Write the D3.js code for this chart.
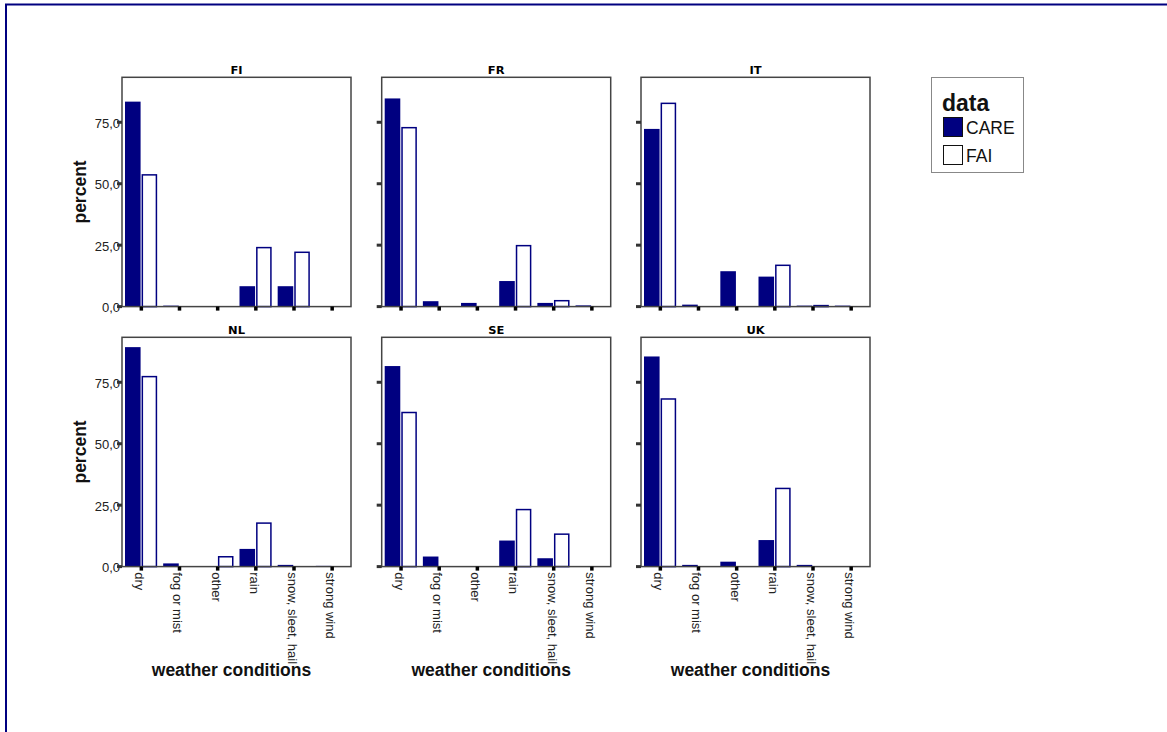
<!DOCTYPE html>
<html><head><meta charset="utf-8">
<script src="https://cdn.jsdelivr.net/npm/d3@7"></script>
<style>body{margin:0;background:#fff;font-family:"Liberation Sans",Arial,sans-serif}</style>
</head><body>
<svg id="chart" width="1167" height="732"></svg>
<script>
const categories = ["dry","fog or mist","other","rain","snow, sleet, hail","strong wind"];
const countries = ["FI","FR","IT","NL","SE","UK"];
const series = ["CARE","FAI"];
const careValues = [
  [83.4, 0.4, 0, 8.3, 8.3, 0],
  [84.7, 2.2, 1.5, 10.4, 1.5, 0.5],
  [72.3, 0.8, 14.4, 12.2, 0.4, 0.4],
  [89.3, 1.3, 0, 7.2, 0.7, 0.3],
  [81.6, 4.1, 0, 10.6, 3.4, 0],
  [85.5, 0.7, 2.0, 10.8, 0.7, 0]
];
const faiValues = [
  [53.6, 0, 0, 24.0, 22.1, 0],
  [72.8, 0, 0, 24.8, 2.4, 0],
  [82.7, 0, 0, 16.8, 0.4, 0],
  [77.3, 0, 4.0, 17.7, 0, 0],
  [62.7, 0, 0, 23.2, 13.2, 0],
  [68.2, 0, 0, 31.8, 0, 0]
];
const yTicks = [0, 25, 50, 75];
const yMax = 93.3;

const svg = d3.select("#chart");
const navy = "#000080";
const font = "Liberation Sans, Arial, sans-serif";

// page frame
svg.append("rect").attr("x", 6).attr("y", 4.5).attr("width", 2000).attr("height", 2000)
  .attr("fill", "none").attr("stroke", navy).attr("stroke-width", 2);

const colLeft = [122, 381.7, 641];
const rowTop = [77.3, 337.3];
const pw = 229, ph = 229.3;

countries.forEach((c, i) => {
  const col = i % 3, row = Math.floor(i / 3);
  const x0 = colLeft[col], y0 = rowTop[row];
  const g = svg.append("g");
  const x = d3.scaleBand().domain(categories).range([x0, x0 + pw]);
  const x1 = d3.scaleBand().domain(series).range([3, x.bandwidth() - 3]).paddingInner(0.06);
  const y = d3.scaleLinear().domain([0, yMax]).range([y0 + ph, y0]);

  // bars
  const data = [];
  categories.forEach((cat, k) => {
    data.push({cat, s: "CARE", v: careValues[i][k]});
    data.push({cat, s: "FAI", v: faiValues[i][k]});
  });
  g.selectAll("rect.bar").data(data.filter(d => d.v > 0)).join("rect")
    .attr("class", "bar")
    .attr("x", d => x(d.cat) + x1(d.s) + (d.s === "FAI" ? 0.75 : 0))
    .attr("width", d => x1.bandwidth() - (d.s === "FAI" ? 1.5 : 0))
    .attr("y", d => y(d.v))
    .attr("height", d => y(0) - y(d.v))
    .attr("fill", d => d.s === "CARE" ? navy : "#fff")
    .attr("stroke", d => d.s === "FAI" ? navy : "none")
    .attr("stroke-width", 1.5);

  // frame
  g.append("rect").attr("x", x0).attr("y", y0).attr("width", pw).attr("height", ph)
    .attr("fill", "none").attr("stroke", "#444").attr("stroke-width", 1.5);

  // y axis ticks
  const yAxis = d3.axisLeft(y).tickValues(yTicks).tickSize(0)
    .tickFormat(col === 0 ? (d => d3.format(".1f")(d).replace(".", ",")) : "");
  const ya = g.append("g").attr("transform", `translate(${x0 - 2},0)`).call(yAxis);
  ya.select(".domain").remove();
  ya.selectAll("text").attr("font-size", 13).attr("fill", "#222")
    .attr("font-family", font).attr("x", 0).attr("dy", "0.4em");
  yTicks.forEach(t => {
    g.append("rect").attr("x", x0 - 5).attr("y", y(t) - 1.5).attr("width", 5).attr("height", 3).attr("fill", "#333");
  });

  // x ticks
  categories.forEach(cat => {
    g.append("rect").attr("x", x(cat) + x.bandwidth() / 2 - 1.5).attr("y", y0 + ph)
      .attr("width", 3.5).attr("height", 4).attr("fill", "#000");
  });

  // x labels on bottom row
  if (row === 1) {
    const xAxis = d3.axisBottom(x).tickSize(0);
    const xa = g.append("g").attr("transform", `translate(0,${y0 + ph + 5})`).call(xAxis);
    xa.select(".domain").remove();
    xa.selectAll("text").attr("transform", "rotate(90)").attr("text-anchor", "start")
      .attr("x", 0).attr("y", 0).attr("dy", "0.45em").attr("dx", "0.05em")
      .attr("font-size", 13).attr("fill", "#222")
      .attr("font-family", font);
    g.append("text").attr("x", x0 + pw / 2 - 5).attr("y", 676).attr("text-anchor", "middle")
      .attr("font-size", 17.5).attr("font-weight", "bold").attr("fill", "#111").text("weather conditions");
  }

  // y title
  if (col === 0) {
    g.append("text").attr("transform", `translate(86,${y0 + ph / 2}) rotate(-90)`)
      .attr("text-anchor", "middle").attr("font-size", 17.5).attr("font-weight", "bold")
      .attr("fill", "#111").text("percent");
  }

  // panel title
  g.append("text").attr("transform", `translate(${x0 + pw / 2},${y0 - 3}) scale(1.15,1)`)
    .attr("text-anchor", "middle").attr("font-family", "DejaVu Sans, sans-serif")
    .attr("font-size", 10).attr("font-weight", "bold").attr("fill", "#000").text(c);
});

// legend
const lg = svg.append("g");
lg.append("rect").attr("x", 931.5).attr("y", 77.5).attr("width", 92).attr("height", 95)
  .attr("fill", "#fff").attr("stroke", "#888").attr("stroke-width", 1);
lg.append("text").attr("x", 942).attr("y", 111).attr("font-size", 23).attr("font-weight", "bold").attr("fill", "#111").text("data");
series.forEach((s, k) => {
  lg.append("rect").attr("x", 943.5).attr("y", 117.5 + k * 28).attr("width", 19).attr("height", 19)
    .attr("fill", s === "CARE" ? navy : "#fff").attr("stroke", "#111").attr("stroke-width", 1);
  lg.append("text").attr("x", 966).attr("y", 134 + k * 28).attr("font-size", 17.5).attr("fill", "#111").text(s);
});
</script>
</body></html>
